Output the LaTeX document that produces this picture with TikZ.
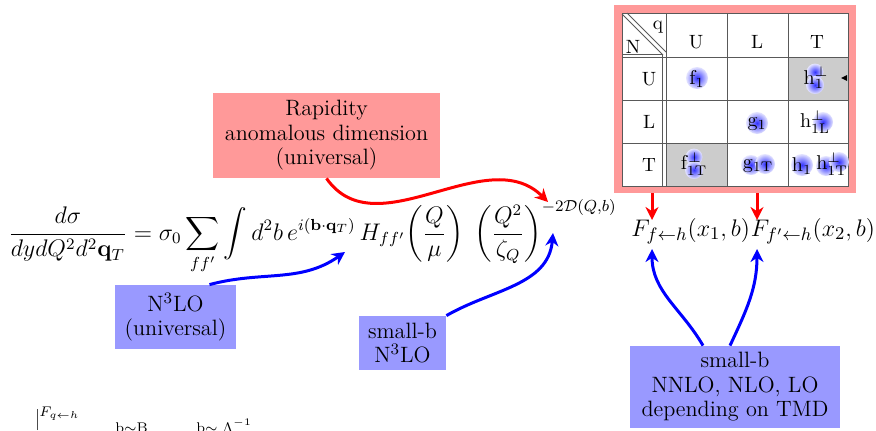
\documentclass[tikz,border=0pt]{standalone}
\usepackage{amsmath,amssymb}
\usetikzlibrary{arrows.meta,positioning,calc}

\begin{document}
\begin{tikzpicture}[
    x=0.5pt, y=0.5pt,
    boxfont/.style={font=\fontsize{11.1}{12.25}\selectfont},
    redbox/.style={rectangle, fill=red!40, align=center, inner sep=1pt, boxfont},
    bluebox/.style={rectangle, fill=blue!40, align=center, inner sep=1pt, boxfont},
    redarrow/.style={-{Stealth[length=6.5pt, width=6.5pt]}, line width=1.5pt, draw=red},
    bluearrow/.style={-{Stealth[length=6.5pt, width=6.5pt]}, line width=1.5pt, draw=blue},
    cell/.style={font=\fontsize{9.6}{11}\selectfont, inner sep=0pt},
    grid/.style={draw=black!65, line width=0.5pt},
    blob/.style={inner color=blue!80, outer color=blue!10}
]
    \useasboundingbox (0,0) rectangle (876,430);

    % Table of TMDs (top right)
    \node[fill=red!40, minimum width=121pt, minimum height=94pt, inner sep=0pt, anchor=south west] (frame) at (614,237) {};
    \fill[white] (622,244) rectangle (848,417);
    \fill[gray!40] (788,330) rectangle (848,373);
    \fill[gray!40] (666,244) rectangle (727,287);
    \draw[grid] (622,244) rectangle (848,417);
    \draw[grid] (622,373) -- (848,373);
    \draw[grid] (622,376) -- (662,376);
    \draw[grid] (622,330) -- (848,330);
    \draw[grid] (622,287) -- (848,287);
    \draw[grid] (662,244) -- (662,376);
    \draw[grid] (666,244) -- (666,417);
    \draw[grid] (727,244) -- (727,417);
    \draw[grid] (788,244) -- (788,417);
    \draw[grid] (622,416) -- (663,375);
    \draw[grid] (627,417) -- (666,378);
    \node[cell] (q) at (658,403) {q};
    \node[cell] (N) at (633,383) {N};
    \foreach \lab/\xx in {U/696, L/757, T/817}
        \node[cell] (col\lab) at (\xx,388) {\lab};
    \foreach \lab/\yy in {U/351, L/308, T/265}
        \node[cell] (row\lab) at (649,\yy) {\lab};

    % Blobs behind the entries
    \foreach \bx/\by/\br in {697/352/5.5, 815/358/4.2, 815/345/4.5, 757/307/5.5, 823/308/5,
        694/273/4.2, 694/260/4.5, 751/265/5, 765/266/5, 802/265/5.5, 826/264/5, 839/268/5}
        \shade[blob] (\bx,\by) circle[radius=\br pt];

    % Entries
    \node[cell] (f1) at (697,351) {$\mathrm{f}_1$};
    \node[cell] (h1perp) at (816,352) {$\mathrm{h}_1^{\perp}$};
    \node[cell] (g1) at (757,306) {$\mathrm{g}_1$};
    \node[cell] (h1L) at (815,308) {$\mathrm{h}_{1\mathrm{L}}^{\perp}$};
    \node[cell] (f1T) at (694,266) {$\mathrm{f}_{1\mathrm{T}}^{\perp}$};
    \node[cell] (g1T) at (758,264) {$\mathrm{g}_{1\mathrm{T}}$};
    \node[cell] (h1) at (802,264) {$\mathrm{h}_1$};
    \node[cell] (h1T) at (832,266) {$\mathrm{h}_{1\mathrm{T}}^{\perp}$};
    \fill (841,352) -- (847,355) -- (847,349) -- cycle;

    % Cross section
    \node[anchor=base west, inner sep=0pt, font=\fontsize{11.8}{14}\selectfont] (eq) at (8,190)
        {$\displaystyle \frac{d\sigma}{dydQ^2d^2\mathbf{q}_T} = \sigma_0 \sum_{ff'} \int d^2b\, e^{i(\mathbf{b}\cdot\mathbf{q}_T)}\, H_{ff'}\!\left(\frac{Q}{\mu}\right)\;\left(\frac{Q^2}{\zeta_Q}\right)^{-2\mathcal{D}(Q,b)}$};
    \node[anchor=base west, inner sep=0pt, font=\fontsize{12.4}{14}\selectfont] (F1) at (631,194) {$F_{f\leftarrow h}(x_1,b)$};
    \node[anchor=base west, inner sep=0pt, font=\fontsize{12.4}{14}\selectfont] (F2) at (F1.base east) {$F_{f'\leftarrow h}(x_2,b)$};

    % Boxes
    \node[redbox, minimum width=113.5pt, minimum height=42.5pt] (rapidity) at (326.5,294.5) {Rapidity\\anomalous dimension\\(universal)};
    \node[bluebox, minimum width=60.5pt, minimum height=32pt] (hard) at (175.5,113) {N$^3$LO\\(universal)};
    \node[bluebox, minimum width=43.5pt, minimum height=27pt] (smallb) at (402.5,87) {small-b\\N$^3$LO};
    \node[bluebox, minimum width=105pt, minimum height=41pt] (tmd) at (735,43) {small-b\\NNLO, NLO, LO\\depending on TMD};

    % Targets
    \coordinate (expo) at (548,228);
    \coordinate (expob) at (553,197);
    \coordinate (hff) at (345,178);
    \coordinate (ta) at (652,210);
    \coordinate (tb) at (757,210);
    \coordinate (ba) at (652,181);
    \coordinate (bb) at (757,181);

    % Arrows
    \draw[redarrow] (rapidity.south) to[out=-55, in=135] (expo);
    \draw[redarrow] (frame.south -| ta) -- (ta);
    \draw[redarrow] (frame.south -| tb) -- (tb);
    \draw[bluearrow] ([xshift=17pt]hard.north) to[out=15, in=-145] (hff);
    \draw[bluearrow] (smallb.north east) to[out=30, in=-95] (expob);
    \draw[bluearrow] ([xshift=-16pt]tmd.north) to[out=120, in=-90] (ba);
    \draw[bluearrow] ([xshift=-2.5pt]tmd.north) to[out=65, in=-90] (bb);

    % Remnant of a lower plot
    \draw[black!70, line width=0.4pt] (37,0) -- (37,21);
    \node[anchor=base west, inner sep=0pt, font=\scriptsize] (Fq) at (39,14) {$F_{q\leftarrow h}$};
    \node[anchor=base west, inner sep=0pt, font=\scriptsize] (bB) at (115,-2) {b$\sim$B};
    \node[anchor=base west, inner sep=0pt, font=\scriptsize] (bL) at (196,-2) {b$\sim\Lambda^{-1}$};
\end{tikzpicture}
\end{document}
